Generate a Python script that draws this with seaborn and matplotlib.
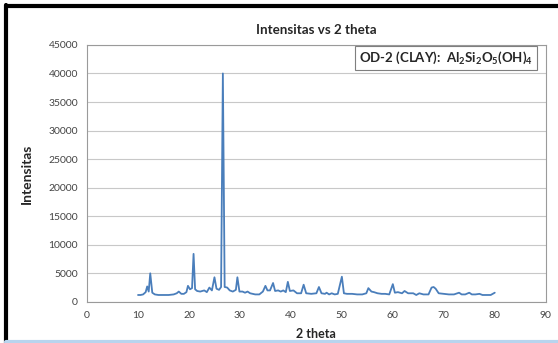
import numpy as np
import pandas as pd
import seaborn as sns
import matplotlib.pyplot as plt
from matplotlib.lines import Line2D

# 2 theta / intensity
two_theta = [10.0, 10.5, 11.0, 11.5, 11.8, 12.1, 12.4, 12.8, 13.3, 14.0, 15.0, 16.0, 17.0, 17.6, 18.0, 18.5,
             19.0, 19.5, 19.8, 20.2, 20.6, 20.9, 21.2, 21.6, 22.2, 23.0, 23.5, 24.0, 24.5, 25.0, 25.4,
             25.9, 26.3, 26.65, 27.0, 27.5, 28.0, 28.6, 29.2, 29.5, 29.9, 30.5, 31.0, 31.5, 32.0,
             32.5, 33.0, 33.8, 34.5, 35.0, 35.4, 35.9, 36.5, 36.9, 37.5, 38.0, 38.5, 39.0, 39.4, 39.8,
             40.5, 41.2, 42.0, 42.5, 43.0, 44.0, 45.0, 45.5, 46.0, 46.7, 47.0, 47.5, 48.0, 48.6, 49.2,
             50.0, 50.4, 51.0, 52.0, 53.0, 54.0, 54.8, 55.2, 55.8, 56.3, 57.0, 57.8, 58.5, 59.3, 60.0,
             60.4, 61.0, 61.8, 62.3, 63.0, 64.0, 64.6, 65.2, 66.0, 67.0, 67.6, 68.0, 68.4, 69.0, 70.0,
             71.0, 72.0, 73.0, 73.5, 74.2, 75.0, 75.5, 76.2, 77.0, 77.6, 78.5, 79.2, 80.0]
intensitas = [1200, 1200, 1300, 1700, 2700, 1800, 5000, 1600, 1300, 1200, 1200, 1200, 1300, 1500, 1800, 1400,
              1400, 1700, 2800, 2200, 2400, 8400, 2200, 1900, 1800, 2000, 1700, 2500, 2000, 4300, 2300,
              2100, 2600, 40000, 2600, 2500, 2000, 1800, 2100, 4300, 1800, 1800, 1600, 1800, 1500,
              1400, 1300, 1300, 1800, 2800, 2000, 2000, 3300, 1900, 2000, 1800, 2000, 1700, 3500, 1900,
              2000, 1500, 1500, 3000, 1500, 1400, 1500, 2600, 1500, 1400, 1600, 1300, 1500, 1300, 1400,
              4400, 1500, 1400, 1400, 1300, 1300, 1500, 2400, 1800, 1700, 1500, 1400, 1400, 1300, 3100,
              1600, 1700, 1500, 1900, 1500, 1500, 1200, 1500, 1300, 1300, 2500, 2600, 2300, 1500, 1400,
              1300, 1300, 1600, 1300, 1300, 1600, 1300, 1300, 1400, 1200, 1200, 1200, 1600]

df = pd.DataFrame({'2 theta': two_theta, 'Intensitas': intensitas})

sns.set_style('white')
plt.rcParams['font.family'] = ['Lato', 'DejaVu Sans']
plt.rcParams['mathtext.fontset'] = 'custom'
plt.rcParams['mathtext.bf'] = 'Lato:bold'
plt.rcParams['mathtext.rm'] = 'Lato:bold'

fig = plt.figure(figsize=(5.58, 3.43), dpi=100)
ax = fig.add_axes([0.156, 0.120, 0.822, 0.749])
ax.yaxis.grid(True, color='#c8c8c8', linewidth=0.8)
ax.set_axisbelow(True)
sns.lineplot(data=df, x='2 theta', y='Intensitas', ax=ax, color='#4a7ebb', linewidth=1.3, estimator=None)

ax.set_xlim(0, 90)
ax.set_ylim(0, 45000)
ax.set_xticks(range(0, 91, 10))
ax.set_yticks(range(0, 45001, 5000))
ax.tick_params(axis='both', labelsize=7.5, colors='#888888', length=3, direction='out')
ax.tick_params(axis='both', labelcolor='#444444')
for s in ax.spines.values():
    s.set_color('#9a9a9a')
    s.set_linewidth(0.8)

ax.set_title('Intensitas vs 2 theta', fontsize=9.6, fontweight='bold', pad=8)
ax.set_xlabel('2 theta', fontsize=9, fontweight='bold', labelpad=6)
ax.set_ylabel('Intensitas', fontsize=10, fontweight='bold', labelpad=11)

ax.text(0.973, 0.982, r'OD-2 (CLAY):  $\mathbf{Al_2Si_2O_5(OH)_4}$', transform=ax.transAxes,
        ha='right', va='top', fontsize=9.5, fontweight='bold',
        bbox=dict(boxstyle='square,pad=0.3', facecolor='white', edgecolor='#7f7f7f', linewidth=0.8))

# slide frame
fig.add_artist(Line2D([0.011, 0.011], [0, 0.985], transform=fig.transFigure, color='black', linewidth=3))
fig.add_artist(Line2D([0.011, 1.0], [0.982, 0.982], transform=fig.transFigure, color='black', linewidth=3))
fig.add_artist(Line2D([0.011, 1.0], [0.004, 0.004], transform=fig.transFigure, color='#b8d4ee', linewidth=3))

plt.savefig('out.png', dpi=100)
